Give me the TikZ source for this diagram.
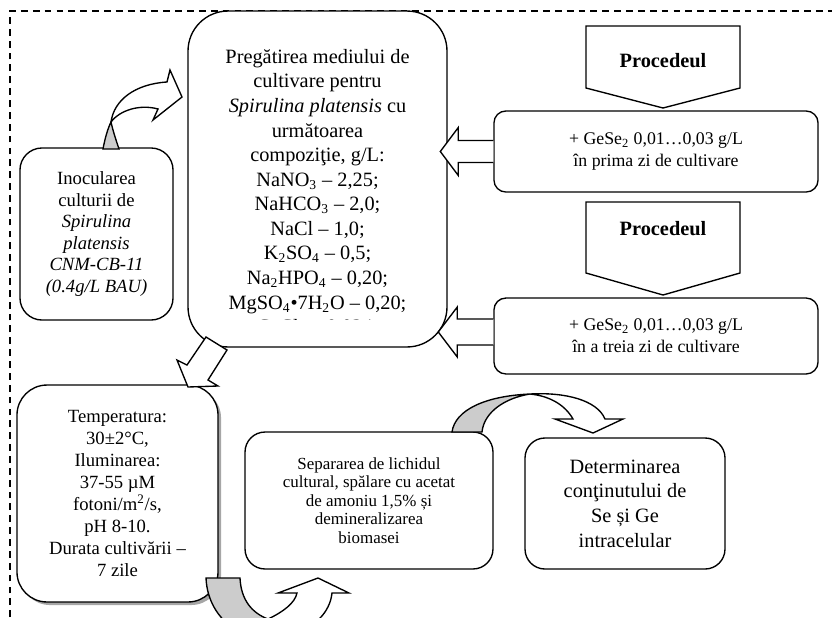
\documentclass[tikz,border=0pt]{standalone}
\usepackage{fontspec}
\setmainfont{Liberation Serif}
\usetikzlibrary{positioning,shadows,calc}

\begin{document}
\begin{tikzpicture}[x=0.59pt, y=-0.59pt,
    stepbox/.style={draw, line width=0.8pt, rounded corners=#1, align=center, inner sep=0pt},
    stepbox/.default=12pt,
    blockarrow/.style={draw, fill=white, line width=0.8pt},
    backface/.style={draw, fill=gray!40, line width=0.8pt},
    procbox/.style={draw, line width=0.8pt, fill=white}]

    % Frame of the picture
    \useasboundingbox (0,0) rectangle (832,617);
    \clip (0,0) rectangle (832,617);
    \draw[dashed, dash pattern=on 4pt off 3pt, line width=0.6pt] (10,617) -- (10,11) -- (832,11);

    % Main steps
    \node[stepbox=13pt, minimum width=90.3pt, minimum height=101.5pt,
          font=\fontsize{11}{12.7}\selectfont] (inoc) at (96.5,234)
        {Inocularea\\culturii de\\\textit{Spirulina}\\\textit{platensis}\\\textit{CNM-CB-11}\\\textit{(0.4g/L BAU)}};
    \node[stepbox=23.6pt, fill=white, minimum width=152.8pt, minimum height=198.2pt] (mediu) at (317.5,179) {};
    \begin{scope}
        \clip (188,11) rectangle (447,319);
        \node[align=center, font=\fontsize{12}{14.5}\selectfont] (compozitie) at (317.5,193)
            {Pregătirea mediului de\\cultivare pentru\\\textit{Spirulina platensis} cu\\următoarea\\compoziţie, g/L:\\
             NaNO\textsubscript{3} – 2,25;\\NaHCO\textsubscript{3} – 2,0;\\NaCl – 1,0;\\K\textsubscript{2}SO\textsubscript{4} – 0,5;\\
             Na\textsubscript{2}HPO\textsubscript{4} – 0,20;\\MgSO\textsubscript{4}•7H\textsubscript{2}O – 0,20;\\CaCl\textsubscript{2} – 0,024;};
    \end{scope}
    \node[stepbox=17.7pt, fill=white, minimum width=118.6pt, minimum height=128pt,
          drop shadow={shadow xshift=1.8pt, shadow yshift=-1.8pt, fill=gray!70, opacity=1},
          font=\fontsize{11}{13}\selectfont] (cultivare) at (117.5,493.5)
        {Temperatura:\\30±2°C,\\Iluminarea:\\37-55 µM\\fotoni/m\textsuperscript{2}/s,\\pH 8-10.\\Durata cultivării –\\7 zile};
    \node[stepbox=11.8pt, minimum width=146.3pt, minimum height=80.8pt,
          font=\fontsize{10}{11}\selectfont] (separare) at (369,500.5)
        {Separarea de lichidul\\cultural, spălare cu acetat\\de amoniu 1,5\% și\\demineralizarea\\biomasei};
    \node[stepbox=11.8pt, minimum width=118pt, minimum height=77.3pt,
          font=\fontsize{12}{14.5}\selectfont] (determinare) at (625,503.5)
        {Determinarea\\conţinutului de\\Se și Ge\\intracelular};

    % Procedeul
    \draw[procbox] (586,26) -- (740,26) -- (740,88) -- (663,108) -- (586,88) -- cycle;
    \node[font=\bfseries\fontsize{12}{14}\selectfont] (proc1) at (663,61) {Procedeul};
    \draw[procbox] (586,202) -- (740,202) -- (740,273) -- (663,295) -- (586,273) -- cycle;
    \node[font=\bfseries\fontsize{12}{14}\selectfont] (proc2) at (663,229) {Procedeul};
    \node[stepbox=7pt, minimum width=191.2pt, minimum height=47.8pt,
          font=\fontsize{10.5}{13}\selectfont] (gese1) at (656,151.5)
        {+ GeSe\textsubscript{2} 0,01…0,03 g/L\\în prima zi de cultivare};
    \node[stepbox=7pt, minimum width=191.2pt, minimum height=44.8pt,
          font=\fontsize{10.5}{13}\selectfont] (gese2) at (656,336)
        {+ GeSe\textsubscript{2} 0,01…0,03 g/L\\în a treia zi de cultivare};

    % Hollow arrows into the medium
    \draw[blockarrow] ($(gese1.west)+(0,-11)$) -- ++(-35,0) -- ++(0,-13) -- ++(-18,24)
        -- ++(18,24) -- ++(0,-13) -- ++(35,0);
    \draw[blockarrow] ($(gese2.west)+(0,-17)$) -- ++(-36,0) -- ++(0,-12) -- ++(-19,25)
        -- ++(19,25) -- ++(0,-12) -- ++(36,0);
    \draw[blockarrow] (206,337) -- (227,350) -- (208,380) -- (218,386) -- (188,387)
        -- (177,360) -- (187,365) -- cycle;

    % Curved arrows
    \draw[backface] (103,149) .. controls (105,138) and (108,128) .. (111,122)
        .. controls (113,131) and (116,140) .. (119,149) -- cycle;
    \draw[blockarrow] (111,122) .. controls (114,100) and (135,84) .. (167,82) -- (170,70)
        -- (182,97) -- (153,120) -- (158,109) .. controls (140,104) and (120,110) .. (111,122) -- cycle;

    \draw[backface] (206,578) -- (240,578) .. controls (241,600) and (252,613) .. (268,619)
        -- (240,632) .. controls (220,622) and (207,602) .. (206,578) -- cycle;
    \draw[blockarrow] (268,619) .. controls (283,612) and (295,603) .. (297,593) -- (278,593)
        -- (318,578) -- (349,593) -- (332,593) .. controls (330,612) and (315,628) .. (290,635) -- cycle;

    \draw[backface] (452,432) .. controls (455,410) and (485,396) .. (530,394)
        .. controls (505,398) and (484,412) .. (482,432) -- cycle;
    \draw[blockarrow] (530,394) .. controls (565,392) and (597,400) .. (605,419) -- (623,419)
        -- (593,433) -- (555,419) -- (573,419) .. controls (565,405) and (550,396) .. (530,394) -- cycle;

\end{tikzpicture}
\end{document}
